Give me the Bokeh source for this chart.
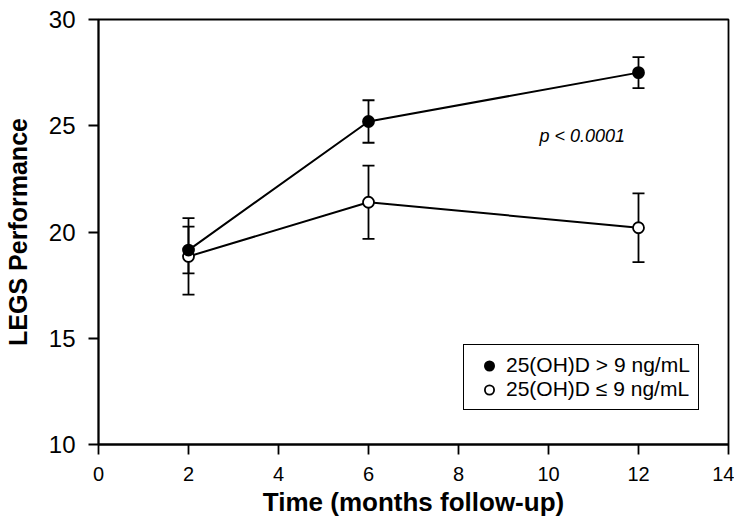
from bokeh.plotting import figure
from bokeh.models import (ColumnDataSource, Range1d, FixedTicker, Whisker, TeeHead,
                          Legend, LegendItem, Label)
from bokeh.embed import file_html
from bokeh.resources import INLINE

# Data (months follow-up, LEGS performance mean and error)
months = [2, 6, 12]
high_mean = [19.15, 25.2, 27.5]
high_err = [1.1, 1.0, 0.73]
low_mean = [18.85, 21.4, 20.2]
low_err = [1.8, 1.72, 1.62]

x_ticks = [0, 2, 4, 6, 8, 10, 12, 14]
y_ticks = [10, 15, 20, 25, 30]

label_high = "25(OH)D > 9 ng/mL"
label_low = "25(OH)D \u2264 9 ng/mL"
p_text = "p < 0.0001"

FONT = "Liberation Sans"

src_high = ColumnDataSource(dict(
    x=months, y=high_mean,
    lo=[m - e for m, e in zip(high_mean, high_err)],
    hi=[m + e for m, e in zip(high_mean, high_err)]))
src_low = ColumnDataSource(dict(
    x=months, y=low_mean,
    lo=[m - e for m, e in zip(low_mean, low_err)],
    hi=[m + e for m, e in zip(low_mean, low_err)]))

p = figure(width=734, height=520, output_backend="svg", toolbar_location=None,
           x_range=Range1d(0, 14), y_range=Range1d(10, 30),
           min_border_left=97, min_border_right=6, min_border_top=19, min_border_bottom=76)

p.xgrid.visible = False
p.ygrid.visible = False
p.outline_line_color = "black"
p.outline_line_width = 1.8
p.outline_line_alpha = 1.0
p.background_fill_color = "white"
p.border_fill_color = "white"

for ax in (p.xaxis[0], p.yaxis[0]):
    ax.axis_line_color = "black"
    ax.axis_line_width = 1.8
    ax.major_tick_line_color = "black"
    ax.major_tick_line_width = 1.8
    ax.major_tick_out = 10
    ax.major_tick_in = 0
    ax.minor_tick_line_color = None
    ax.major_label_text_font = FONT
    ax.axis_label_text_font = FONT
    ax.axis_label_text_font_style = "bold"
    ax.axis_label_text_color = "black"
    ax.major_label_text_color = "black"

p.xaxis.ticker = FixedTicker(ticks=x_ticks)
p.yaxis.ticker = FixedTicker(ticks=y_ticks)
p.xaxis.major_label_text_font_size = "20px"
p.yaxis.major_label_text_font_size = "24px"
p.xaxis.axis_label = "Time (months follow-up)"
p.yaxis.axis_label = "LEGS Performance"
p.xaxis.axis_label_text_font_size = "26px"
p.yaxis.axis_label_text_font_size = "25px"
p.xaxis.major_label_standoff = 12
p.yaxis.major_label_standoff = 13
p.xaxis.axis_label_standoff = 3
p.yaxis.axis_label_standoff = 14

# error bars
for src in (src_high, src_low):
    w = Whisker(source=src, base="x", lower="lo", upper="hi",
                line_color="black", line_width=1.8,
                lower_head=TeeHead(size=12, line_color="black", line_width=1.8),
                upper_head=TeeHead(size=12, line_color="black", line_width=1.8))
    p.add_layout(w)

p.line("x", "y", source=src_high, line_color="black", line_width=2)
p.line("x", "y", source=src_low, line_color="black", line_width=2)
r_low = p.scatter("x", "y", source=src_low, size=11, marker="circle",
                  fill_color="white", line_color="black", line_width=1.8)
r_high = p.scatter("x", "y", source=src_high, size=11, marker="circle",
                   fill_color="black", line_color="black", line_width=1.8)

p.add_layout(Label(x=9.8, y=24.5, text=p_text, text_font=FONT, text_font_size="18px",
                   text_font_style="italic", text_baseline="middle", text_color="black"))

legend = Legend(items=[LegendItem(label=label_high, renderers=[r_high]),
                       LegendItem(label=label_low, renderers=[r_low])],
                location=(365, 34), orientation="vertical",
                border_line_color="black", border_line_width=1.5, border_line_alpha=1.0,
                background_fill_color="white", background_fill_alpha=1.0,
                label_text_font=FONT, label_text_font_size="21px",
                label_text_color="black",
                glyph_width=34, glyph_height=23, label_height=23,
                spacing=0, padding=8, label_standoff=0, margin=0)
p.add_layout(legend, "center")

open("out.html", "w").write(file_html(p, INLINE))
